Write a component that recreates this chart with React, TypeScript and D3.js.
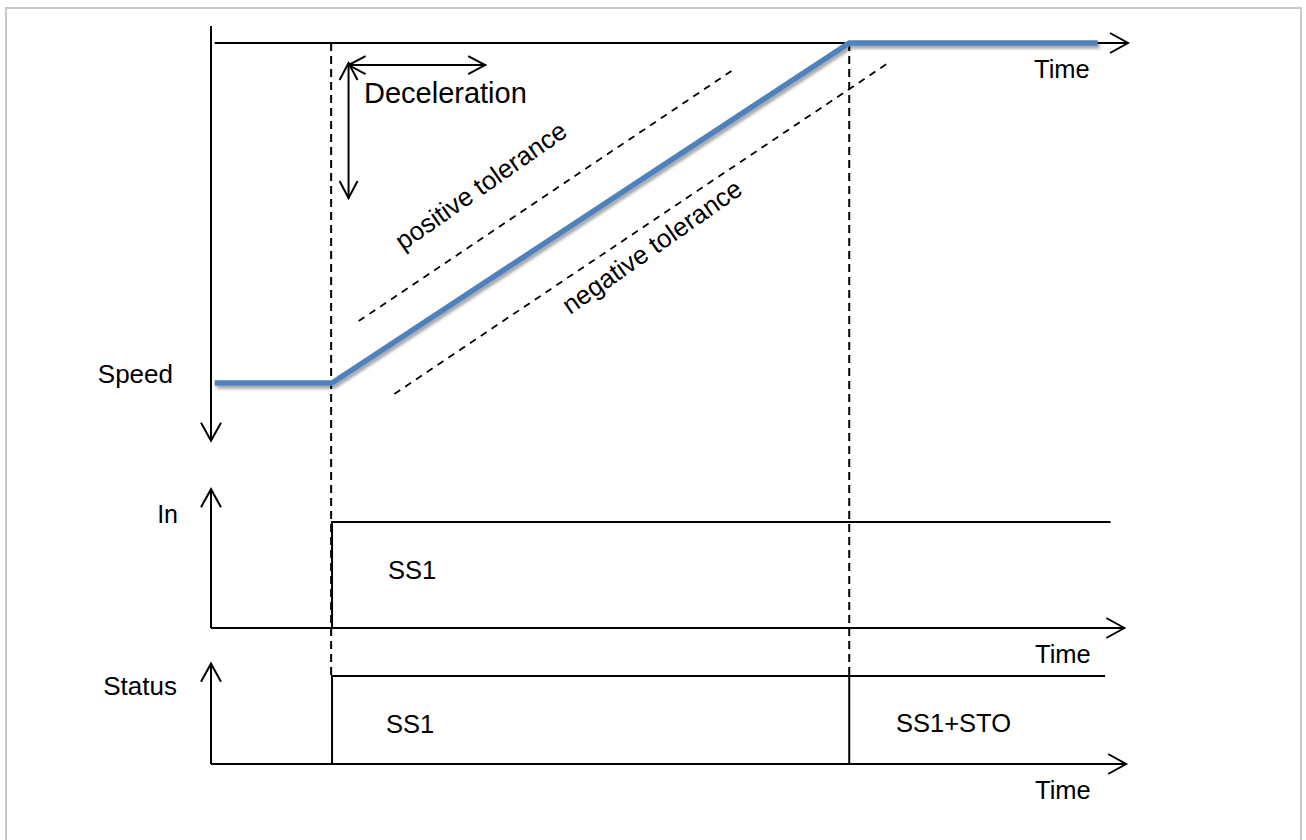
import React from "react";
import * as d3 from "d3";

// ---- data (time units, speed units, signal levels) ----
const speedTimes = [0.04, 1.32, 6.96, 9.67];
const speedValues = [100, 100, 0, 0];

const posTolTimes = [1.61, 5.71];
const posTolValues = [81.8, 7.6];
const negTolTimes = [2.0, 7.4];
const negTolValues = [103.2, 5.6];

const inTimes = [1.32, 1.32, 9.81];
const inLevels = [0, 1, 1];

const statusTimes = [1.32, 1.32, 9.75];
const statusLevels = [0, 1, 1];
const stoTime = 6.96;

const eventTimes = [1.31, 6.96];

const axisLabels = ["Speed", "In", "Status"];
const timeLabel = "Time";
const phaseLabels = ["SS1", "SS1", "SS1+STO"];
const toleranceLabels = ["positive tolerance", "negative tolerance"];
const decelLabel = "Deceleration";

// decel arrows: [t0, v0, t1, v1]
const decelVertical = [1.5, 5.9, 1.5, 45.6];
const decelHorizontal = [1.5, 6.5, 2.99, 6.5];

const FONT = "'Liberation Sans', Arial, sans-serif";

export default function App() {
  const x = d3.scaleLinear().domain([0, 10]).range([211, 1128]);
  const ySpeed = d3.scaleLinear().domain([0, 100]).range([43, 383]);
  const yIn = d3.scaleLinear().domain([0, 1]).range([628, 522]);
  const yStatus = d3.scaleLinear().domain([0, 1]).range([764, 676]);

  const line = d3.line<[number, number]>().x((d) => d[0]).y((d) => d[1]);

  const speedPts: [number, number][] = speedTimes.map((t, i) => [x(t), ySpeed(speedValues[i])]);
  const posPts: [number, number][] = posTolTimes.map((t, i) => [x(t), ySpeed(posTolValues[i])]);
  const negPts: [number, number][] = negTolTimes.map((t, i) => [x(t), ySpeed(negTolValues[i])]);
  const inPts: [number, number][] = inTimes.map((t, i) => [x(t), yIn(inLevels[i])]);
  const stPts: [number, number][] = statusTimes.map((t, i) => [x(t), yStatus(statusLevels[i])]);

  const head = (x1: number, y1: number, x2: number, y2: number, len = 18, hw = 10) => {
    const a = Math.atan2(y2 - y1, x2 - x1);
    const bx = x2 - len * Math.cos(a);
    const by = y2 - len * Math.sin(a);
    const px = -Math.sin(a) * hw;
    const py = Math.cos(a) * hw;
    return `M${bx + px},${by + py}L${x2},${y2}L${bx - px},${by - py}`;
  };

  const black = "#000";
  const sw = 2;

  const arrow = (x1: number, y1: number, x2: number, y2: number, both = false, len = 18, hw = 10) => (
    <g>
      <line x1={x1} y1={y1} x2={x2} y2={y2} stroke={black} strokeWidth={sw} />
      <path d={head(x1, y1, x2, y2, len, hw)} fill="none" stroke={black} strokeWidth={sw} />
      {both && <path d={head(x2, y2, x1, y1, len, hw)} fill="none" stroke={black} strokeWidth={sw} />}
    </g>
  );

  const txt = (s: string, tx: number, ty: number, size: number, anchor = "start", rot = 0) => (
    <text
      x={tx}
      y={ty}
      fontSize={size}
      fontFamily={FONT}
      textAnchor={anchor}
      fill="#000"
      transform={rot ? `rotate(${rot},${tx},${ty})` : undefined}
    >
      {s}
    </text>
  );

  return (
    <svg width={1306} height={840} style={{ position: "absolute", left: 0, top: 0 }}>
      <defs>
        <filter id="sh" x="-10%" y="-10%" width="120%" height="130%">
          <feDropShadow dx="2" dy="3" stdDeviation="1.5" floodColor="#000" floodOpacity="0.35" />
        </filter>
      </defs>
      <rect x={0} y={0} width={1306} height={840} fill="#fff" />
      <rect x={6} y={8} width={1295} height={850} fill="none" stroke="#c8c8c8" strokeWidth={2} />

      {/* speed panel axes */}
      <line x1={x(0)} y1={26} x2={x(0)} y2={ySpeed(117)} stroke={black} strokeWidth={sw} />
      <path d={head(x(0), 26, x(0), ySpeed(117))} fill="none" stroke={black} strokeWidth={sw} />
      {arrow(x(0.04), ySpeed(0), x(10), ySpeed(0))}

      {/* event dashed lines */}
      {eventTimes.map((t, i) => (
        <line key={i} x1={x(t)} y1={ySpeed(0)} x2={x(t)} y2={yStatus(1)} stroke={black} strokeWidth={2} strokeDasharray="8,5" />
      ))}

      {/* tolerance lines */}
      <path d={line(posPts) || ""} fill="none" stroke={black} strokeWidth={1.8} strokeDasharray="7,6" />
      <path d={line(negPts) || ""} fill="none" stroke={black} strokeWidth={1.8} strokeDasharray="7,6" />

      {/* speed profile */}
      <path d={line(speedPts) || ""} fill="none" stroke="#4f81bd" strokeWidth={5.5} strokeLinejoin="miter" filter="url(#sh)" />

      {/* deceleration arrows */}
      {arrow(x(decelVertical[0]), ySpeed(decelVertical[1]), x(decelVertical[2]), ySpeed(decelVertical[3]), true, 17, 9)}
      {arrow(x(decelHorizontal[0]), ySpeed(decelHorizontal[1]), x(decelHorizontal[2]), ySpeed(decelHorizontal[3]), true, 17, 9)}
      {txt(decelLabel, 364, 103, 29)}

      {txt(toleranceLabels[0], 486, 193, 26, "middle", -35)}
      {txt(toleranceLabels[1], 657, 254, 26, "middle", -35)}

      {txt(axisLabels[0], 173, 383, 26, "end")}
      {txt(timeLabel, 1034, 78, 25.5)}

      {/* In panel */}
      {arrow(x(0), yIn(0), x(0), yIn(1.31))}
      {arrow(x(0), yIn(0), x(9.96), yIn(0))}
      <path d={line(inPts) || ""} fill="none" stroke={black} strokeWidth={sw} />
      {txt(axisLabels[1], 178, 523, 25, "end")}
      {txt(phaseLabels[0], 388, 579, 25.5)}
      {txt(timeLabel, 1035, 663, 25.5)}

      {/* Status panel */}
      {arrow(x(0), yStatus(0), x(0), yStatus(1.14))}
      {arrow(x(0), yStatus(0), x(9.98), yStatus(0))}
      <path d={line(stPts) || ""} fill="none" stroke={black} strokeWidth={sw} />
      <line x1={x(stoTime)} y1={yStatus(0)} x2={x(stoTime)} y2={yStatus(1)} stroke={black} strokeWidth={sw} />
      {txt(axisLabels[2], 177, 695, 26, "end")}
      {txt(phaseLabels[1], 386, 733, 25.5)}
      {txt(phaseLabels[2], 896, 732, 25.5)}
      {txt(timeLabel, 1035, 799, 25.5)}
    </svg>
  );
}
